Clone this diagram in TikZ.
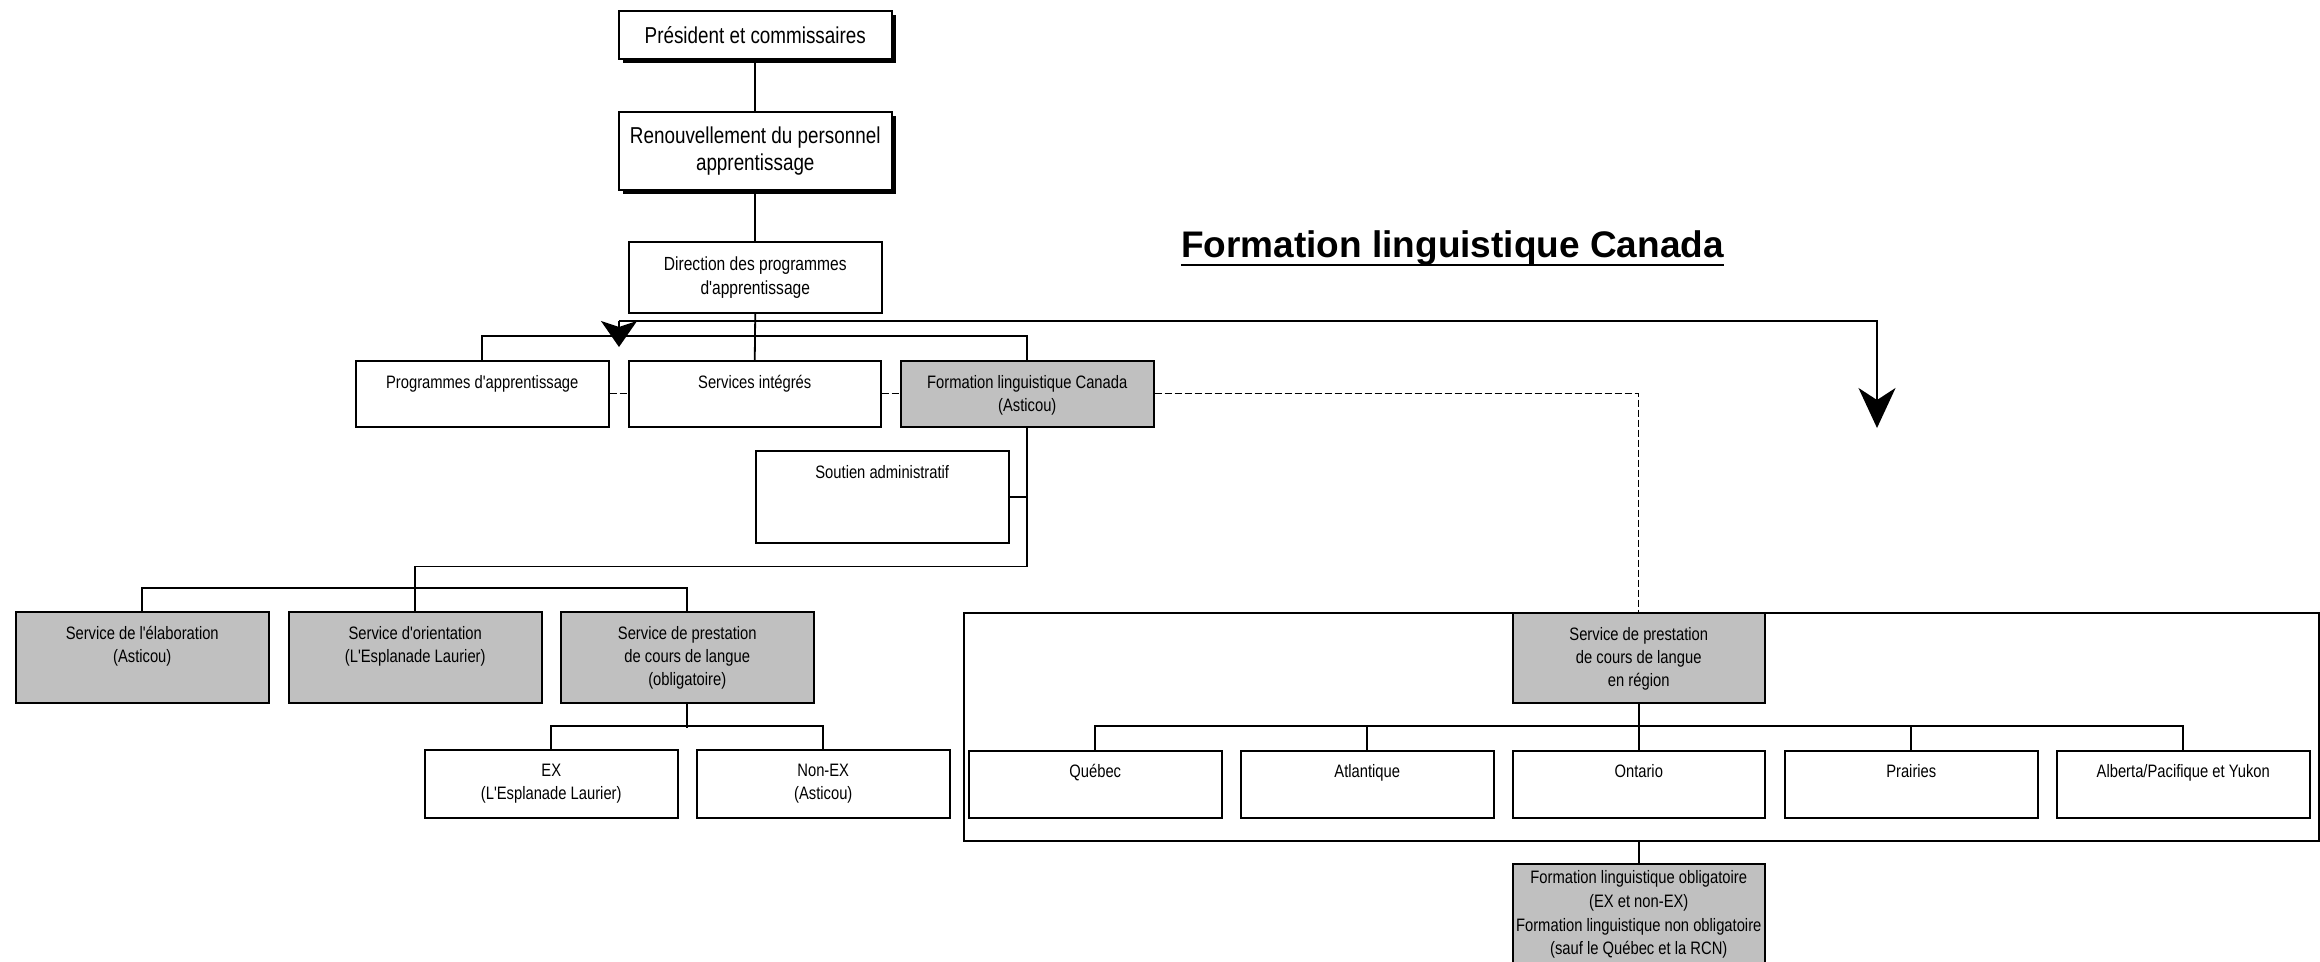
\documentclass[tikz,border=0pt]{standalone}
\usepackage{fontspec}
\setmainfont{Liberation Sans}
\newfontfamily\nf[FakeStretch=0.82]{Liberation Sans}
\usetikzlibrary{arrows.meta,shadows}
\definecolor{boxgray}{RGB}{192,192,192}
% top-aligned box text: width, height, first-baseline offset, text
\newcommand\bt[4]{\parbox[b][#2][t]{#1}{\centering\nf\fontsize{18}{23}\selectfont\rule{0pt}{#3}#4\par}}
% centred box text: width, height, size, skip, text
\newcommand\ct[5]{\parbox[b][#2][c]{#1}{\centering\nf\fontsize{#3}{#4}\selectfont #5\par}}
\tikzset{
  bx/.style={draw, line width=1.5pt, fill=white, inner sep=0pt, anchor=north west,
    general shadow={fill=black, shadow xshift=1.5pt, shadow yshift=-1.5pt}},
  gbx/.style={bx, fill=boxgray},
  tbx/.style={draw, line width=1.5pt, fill=white, inner sep=0pt, anchor=north west,
    general shadow={fill=black, shadow xshift=4pt, shadow yshift=-4pt}},
  ln/.style={line width=1.8pt},
  dsh/.style={line width=1.3pt, dash pattern=on 7pt off 3pt},
}
\begin{document}
\begin{tikzpicture}[x=1pt,y=-1pt]
\useasboundingbox (0,0) rectangle (2320,961);
\clip (0,0) rectangle (2320,961);

% title
\node[font=\bfseries\fontsize{37}{44}\selectfont, inner sep=0pt, anchor=base] (title) at (1452.5,257) {Formation linguistique Canada};
\draw[line width=2.6pt] ([yshift=-8pt]title.base west) -- ([yshift=-8pt]title.base east);

% top chain
\node[tbx] (pres) at (618,10) {\ct{273pt}{48pt}{23}{26}{Président et commissaires}};
\node[tbx] (ren) at (618,111) {\ct{273pt}{78pt}{23}{27}{Renouvellement du personnel\\apprentissage}};
\node[bx] (dir) at (628,241) {\ct{253pt}{71pt}{19}{24}{Direction des programmes\\d'apprentissage}};

% second level
\node[bx] (prog) at (355,360) {\bt{253pt}{66pt}{27.5pt}{Programmes d'apprentissage}};
\node[bx] (serv) at (628,360) {\bt{252pt}{66pt}{27.5pt}{Services intégrés}};
\node[gbx] (flc) at (900,360) {\bt{253pt}{66pt}{27.5pt}{Formation linguistique Canada\\(Asticou)}};
\node[bx] (sout) at (755,450) {\bt{253pt}{92pt}{28pt}{Soutien administratif}};

% left services
\node[gbx] (elab) at (15,611) {\bt{253pt}{91pt}{28pt}{Service de l'élaboration\\(Asticou)}};
\node[gbx] (ori) at (288,611) {\bt{253pt}{91pt}{28pt}{Service d'orientation\\(L'Esplanade Laurier)}};
\node[gbx] (prest) at (560,611) {\bt{253pt}{91pt}{28pt}{Service de prestation\\de cours de langue\\(obligatoire)}};
\node[bx] (ex) at (424,749) {\bt{253pt}{68pt}{27pt}{EX\\(L'Esplanade Laurier)}};
\node[bx] (nonex) at (696,749) {\bt{253pt}{68pt}{27pt}{Non-EX\\(Asticou)}};

% regional container
\node[draw, line width=1.5pt, inner sep=0pt, anchor=north west, minimum width=1355pt, minimum height=228pt,
  general shadow={fill=black, shadow xshift=1.5pt, shadow yshift=-1.5pt}, fill=white] (cont) at (963,612) {};
\node[gbx] (reg) at (1512,612) {\bt{252pt}{90pt}{28pt}{Service de prestation\\de cours de langue\\en région}};
\node[bx] (que) at (968,750) {\bt{253pt}{67pt}{27pt}{Québec}};
\node[bx] (atl) at (1240,750) {\bt{253pt}{67pt}{27pt}{Atlantique}};
\node[bx] (ont) at (1512,750) {\bt{252pt}{67pt}{27pt}{Ontario}};
\node[bx] (pra) at (1784,750) {\bt{253pt}{67pt}{27pt}{Prairies}};
\node[bx] (alb) at (2056,750) {\bt{253pt}{67pt}{27pt}{Alberta/Pacifique et Yukon}};
\node[gbx] (last) at (1512,863) {\parbox[b][110pt][t]{252pt}{\centering\nf\fontsize{18}{23.7}\selectfont\rule{0pt}{20pt}Formation linguistique obligatoire\\(EX et non-EX)\\Formation linguistique non obligatoire\\(sauf le Québec et la RCN)\par}};

% connectors
\draw[ln] (pres.south) -- (ren.north);
\draw[ln] (ren.south) -- (dir.north);
\draw[ln] (dir.south) -- (serv.north);
\draw[ln] (prog.north) -- ++(0,-24) -| (flc.north);
\draw[dsh] (prog.east) -- (serv.west);
\draw[dsh] (serv.east) -- (flc.west);
\draw[dsh] (flc.east) -| (reg.north);
\draw[ln] (flc.south) -- ++(0,139) -| (ori.north);
\draw[ln] (sout.east) -- (sout.east -| flc.south);
\draw[ln] (elab.north) -- ++(0,-23) -| (prest.north);
\draw[ln] (prest.south) -- ++(0,24);
\draw[ln] (ex.north) -- ++(0,-23) -| (nonex.north);
\draw[ln] (reg.south) -- (ont.north);
\draw[ln] (que.north) -- ++(0,-24) -| (alb.north);
\draw[ln] (atl.north) -- ++(0,-24);
\draw[ln] (pra.north) -- ++(0,-24);
\draw[ln] (last.north) -- (last.north |- cont.south);

% arrows
\coordinate (al) at (619,321);
\coordinate (ab) at (619,347);
\coordinate (ar) at (1877,321);
\coordinate (at) at (1877,428);
\draw[ln, -{Stealth[length=40pt,width=37pt,inset=12pt]}] (al) -- (ar) -- (at);
\draw[ln, -{Stealth[length=26pt,width=36pt,inset=6pt]}] (al) -- (ab);
\end{tikzpicture}
\end{document}
